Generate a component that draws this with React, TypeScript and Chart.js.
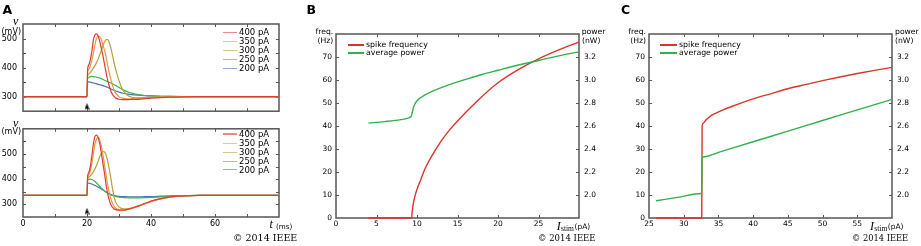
import React, { useEffect, useRef } from 'react';
import { Chart, registerables } from 'chart.js';

Chart.register(...registerables);
Chart.defaults.font.family = "'DejaVu Sans', sans-serif";
Chart.defaults.color = '#000';

// ---------------- Panel A: membrane voltage traces ----------------
const timeMs = [0, 20, 20.2, 20.6, 21, 21.5, 22, 22.5, 23, 23.5, 24, 24.5, 25, 25.5, 26, 26.5, 27, 27.5, 28, 28.5, 29, 30, 31, 32, 33, 34, 36, 38, 40, 43, 46, 50, 55, 60, 80];
const currentLabels = ['400 pA', '350 pA', '300 pA', '250 pA', '200 pA'];
const traceColors = ['#dd3c34', '#ef9642', '#b4a236', '#3cb44c', '#4b70b6'];

const topV400 = [300, 300, 395, 410, 425, 455, 495, 513, 516, 508, 490, 465, 440, 410, 380, 355, 335, 318, 307, 300, 295, 291, 290, 290, 290, 290.5, 291, 293, 295, 297, 298.5, 299.5, 300, 300, 300];
const topV350 = [300, 300, 385, 395, 405, 425, 450, 480, 500, 508, 507, 495, 478, 458, 435, 405, 380, 358, 338, 323, 312, 300, 295, 293, 292.5, 293, 294, 295.5, 297, 298.5, 299.3, 300, 300, 300, 300];
const topV300 = [300, 300, 372, 378, 383, 390, 398, 407, 418, 430, 445, 460, 476, 489, 496, 496, 485, 465, 440, 415, 393, 355, 327, 311, 302, 298, 296, 296.5, 297.5, 298.5, 299.3, 300, 300, 300, 300];
const topV250 = [300, 300, 362, 366, 369, 369.5, 369, 368, 367, 365.5, 364, 361.5, 359, 356.5, 354, 351.5, 349, 346.5, 344, 341, 338, 332, 325, 320, 315, 312, 307, 304, 302.5, 301.5, 300.8, 300.3, 300, 300, 300];
const topV200 = [300, 300, 351, 351, 350, 348.5, 347, 345.5, 344, 342.5, 341, 339.5, 338, 336, 334, 331.5, 329, 326.5, 324, 321.5, 319.5, 316, 312.5, 310, 308.5, 307, 305, 303.5, 302.5, 301.5, 300.8, 300.3, 300, 300, 300];

const botV400 = [336, 336, 412, 428, 448, 490, 540, 570, 575, 565, 540, 502, 460, 420, 375, 340, 315, 298, 288, 282, 279, 277, 277, 278, 281, 285, 293, 303, 313, 323, 330, 334, 336, 336, 336];
const botV350 = [336, 336, 405, 418, 432, 460, 500, 540, 560, 566, 555, 530, 495, 455, 415, 375, 345, 320, 303, 292, 285, 279, 277, 278, 280, 284, 292, 302, 312, 322, 329, 333.5, 335.5, 336, 336];
const botV300 = [336, 336, 403, 408, 413, 420, 430, 442, 455, 472, 490, 503, 510, 508, 495, 470, 438, 400, 360, 328, 308, 290, 283, 282, 283, 286, 294, 303, 312, 322, 329, 333.5, 335.5, 336, 336];
const botV250 = [336, 336, 396, 399, 400, 399, 396, 391, 385, 378, 371, 364, 358, 353, 348, 345, 342, 339, 336, 334, 332, 329, 327.5, 326.5, 326, 326, 326, 326.5, 327.5, 329.5, 331.5, 334, 335.5, 336, 336];
const botV200 = [336, 336, 384, 384, 383, 381, 378, 375, 372, 368, 365, 361, 357, 353, 349, 345, 341, 338, 336, 334.5, 333.5, 332, 331, 330.5, 330, 330, 330, 330.5, 331, 332.5, 334, 335, 336, 336, 336];

const stimTimeMs = [20];
const stimMarkerTop = [266];
const stimMarkerBottom = [273];

// ---------------- Panel B ----------------
const iStimFreqB = [4, 9.35, 9.4, 9.55, 9.75, 10, 10.5, 11, 12, 13, 14, 15, 17.5, 20, 22.5, 25, 27.5, 30];
const spikeFreqB = [0, 0, 2.5, 6.4, 9.5, 12.5, 17, 21.5, 28, 33.5, 38.2, 42.2, 51.1, 58.8, 64.5, 69.2, 73.1, 76.5];
const iStimPowerB = [4, 6, 8, 9, 9.25, 9.3, 9.4, 9.6, 10, 11, 12, 14, 16, 18, 20, 22.5, 25, 27.5, 30];
const avgPowerB = [2.625, 2.638, 2.655, 2.67, 2.682, 2.686, 2.715, 2.77, 2.82, 2.87, 2.905, 2.96, 3.005, 3.048, 3.085, 3.13, 3.17, 3.21, 3.245];

// ---------------- Panel C ----------------
const iStimFreqC = [26, 32.6, 32.65, 32.8, 33.2, 33.8, 34.5, 35.5, 37, 40, 42.5, 45, 47.5, 50, 52.5, 55, 57.5, 60];
const spikeFreqC = [0, 0, 40, 41.2, 42.6, 44.2, 45.4, 46.8, 48.6, 51.8, 54, 56.2, 58, 59.7, 61.3, 62.8, 64.2, 65.5];
const iStimPowerC = [26, 29.3, 32.5, 32.6, 32.65, 33, 35, 40, 45, 50, 55, 60];
const avgPowerC = [1.95, 1.982, 2.013, 2.014, 2.325, 2.333, 2.37, 2.463, 2.555, 2.648, 2.74, 2.832];

const seriesLabels = ['spike frequency', 'average power'];
const RED = '#d8352b';
const GREEN = '#30b24b';

const SANS = "'DejaVu Sans', sans-serif";
const SERIF = "'DejaVu Serif', serif";
const MATH = "'Liberation Serif', serif";

const frameTicksPlugin = {
  id: 'frameTicks',
  beforeDatasetsDraw(chart: any) {
    const { ctx, chartArea: a } = chart;
    const tl = 3;
    ctx.save();
    ctx.strokeStyle = '#555';
    ctx.lineWidth = 1;
    ctx.beginPath();
    const x = chart.scales.x;
    for (const t of x.ticks) {
      const px = Math.round(x.getPixelForValue(t.value)) + 0.5;
      if (px < a.left + 2 || px > a.right - 2) continue;
      ctx.moveTo(px, a.bottom);
      ctx.lineTo(px, a.bottom - tl);
      ctx.moveTo(px, a.top);
      ctx.lineTo(px, a.top + tl);
    }
    const y = chart.scales.y;
    const y2 = chart.scales.y2;
    for (const t of y.ticks) {
      const py = Math.round(y.getPixelForValue(t.value)) + 0.5;
      if (py < a.top + 2 || py > a.bottom - 2) continue;
      ctx.moveTo(a.left, py);
      ctx.lineTo(a.left + tl, py);
      if (!y2) {
        ctx.moveTo(a.right, py);
        ctx.lineTo(a.right - tl, py);
      }
    }
    if (y2) {
      for (const t of y2.ticks) {
        const py = Math.round(y2.getPixelForValue(t.value)) + 0.5;
        if (py < a.top + 2 || py > a.bottom - 2) continue;
        ctx.moveTo(a.right, py);
        ctx.lineTo(a.right - tl, py);
      }
    }
    ctx.stroke();
    ctx.lineWidth = 1.5;
    ctx.strokeRect(a.left, a.top, a.right - a.left, a.bottom - a.top);
    ctx.restore();
  },
};

function arrowImage() {
  const c = document.createElement('canvas');
  c.width = 5;
  c.height = 7;
  const g = c.getContext('2d')!;
  g.fillStyle = '#000';
  g.beginPath();
  g.moveTo(2.5, 0);
  g.lineTo(5, 7);
  g.lineTo(2.5, 5.3);
  g.lineTo(0, 7);
  g.closePath();
  g.fill();
  return c;
}

function xyData(xs: number[], ys: number[]) {
  return xs.map((x, i) => ({ x, y: ys[i] }));
}

const noGrid = { display: false, drawTicks: false };

function traceConfig(series: number[][], markerY: number[], yMin: number, yMax: number, padTop: number, xHeight: number, showXLabels: boolean) {
  const datasets: any[] = series.map((vals, i) => ({
    label: currentLabels[i],
    data: xyData(timeMs, vals),
    borderColor: traceColors[i],
    borderWidth: 1.2,
    pointRadius: 0,
    cubicInterpolationMode: 'monotone',
    fill: false,
  }));
  datasets.push({
    label: 'stimulus onset',
    data: xyData(stimTimeMs, markerY),
    showLine: false,
    pointStyle: arrowImage(),
    pointRadius: 4,
    borderWidth: 0,
    backgroundColor: '#000',
    borderColor: '#000',
    clip: false,
  });
  return {
    type: 'line',
    data: { datasets },
    options: {
      responsive: false,
      animation: false,
      devicePixelRatio: 1,
      events: [],
      layout: { padding: { top: padTop, right: 21, bottom: 0, left: 0 } },
      plugins: { legend: { display: false }, tooltip: { enabled: false } },
      scales: {
        x: {
          type: 'linear',
          min: 0,
          max: 80,
          grid: noGrid,
          border: { display: false },
          ticks: {
            display: showXLabels,
            stepSize: 10,
            autoSkip: false,
            maxRotation: 0,
            padding: 2,
            font: { size: 8 },
            color: '#000',
            callback: (v: number) => (v % 20 === 0 && v < 80 ? String(v) : ''),
          },
          afterFit: (s: any) => {
            s.height = xHeight;
          },
        },
        y: {
          type: 'linear',
          min: yMin,
          max: yMax,
          grid: noGrid,
          border: { display: false },
          ticks: {
            stepSize: 50,
            autoSkip: false,
            padding: 6,
            font: { size: 8 },
            color: '#000',
            callback: (v: number) => (v % 100 === 0 && v >= 300 && v <= 500 ? String(v) : ''),
          },
          afterFit: (s: any) => {
            s.width = 23;
          },
        },
      },
    },
    plugins: [frameTicksPlugin],
  };
}

function ivConfig(fx: number[], fy: number[], px: number[], py: number[], xMin: number, xMax: number, leftW: number, rightW: number) {
  return {
    type: 'line',
    data: {
      datasets: [
        { label: seriesLabels[0], data: xyData(fx, fy), yAxisID: 'y', borderColor: RED, borderWidth: 1.4, pointRadius: 0, cubicInterpolationMode: 'monotone', fill: false, order: 1, clip: 3 },
        { label: seriesLabels[1], data: xyData(px, py), yAxisID: 'y2', borderColor: GREEN, borderWidth: 1.4, pointRadius: 0, cubicInterpolationMode: 'monotone', fill: false, order: 0, clip: 3 },
      ],
    },
    options: {
      responsive: false,
      animation: false,
      devicePixelRatio: 1,
      events: [],
      layout: { padding: { top: 34, right: 0, bottom: 0, left: 0 } },
      plugins: { legend: { display: false }, tooltip: { enabled: false } },
      scales: {
        x: {
          type: 'linear',
          min: xMin,
          max: xMax,
          grid: noGrid,
          border: { display: false },
          ticks: {
            stepSize: 5,
            autoSkip: false,
            maxRotation: 0,
            padding: 2,
            font: { size: 7.5 },
            color: '#000',
            callback: (v: number) => (v >= xMax ? '' : String(v)),
          },
          afterFit: (s: any) => {
            s.height = 28;
          },
        },
        y: {
          type: 'linear',
          position: 'left',
          min: 0,
          max: 80,
          grid: noGrid,
          border: { display: false },
          ticks: {
            stepSize: 10,
            autoSkip: false,
            padding: 4,
            font: { size: 7.5 },
            color: '#000',
            callback: (v: number) => (v >= 80 ? '' : String(v)),
          },
          afterFit: (s: any) => {
            s.width = leftW;
          },
        },
        y2: {
          type: 'linear',
          position: 'right',
          min: 1.8,
          max: 3.4,
          grid: noGrid,
          border: { display: false },
          ticks: {
            stepSize: 0.2,
            autoSkip: false,
            padding: 5,
            font: { size: 7.5 },
            color: '#000',
            callback: (v: number) => (v < 1.9 || v > 3.3 ? '' : v.toFixed(1)),
          },
          afterFit: (s: any) => {
            s.width = rightW;
          },
        },
      },
    },
    plugins: [frameTicksPlugin],
  };
}

function ChartCanvas({ left, top, width, height, build }: { left: number; top: number; width: number; height: number; build: () => any }) {
  const ref = useRef<HTMLCanvasElement>(null);
  useEffect(() => {
    const chart = new Chart(ref.current as HTMLCanvasElement, build());
    return () => chart.destroy();
  }, []);
  return <canvas ref={ref} width={width} height={height} style={{ position: 'absolute', left, top, width, height }} />;
}

function Txt({ x, top, size, family = SANS, weight, italic, right, children }: any) {
  const style: any = {
    position: 'absolute',
    top,
    fontSize: size,
    fontFamily: family,
    lineHeight: `${size}px`,
    whiteSpace: 'nowrap',
    fontWeight: weight || 'normal',
    fontStyle: italic ? 'italic' : 'normal',
    color: '#000',
  };
  if (right !== undefined) style.right = 921 - right;
  else style.left = x;
  return <div style={style}>{children}</div>;
}

function LegendRow({ x1, x2, cy, color, text, size, thick, opacity = 1 }: any) {
  return (
    <>
      <div style={{ position: 'absolute', left: x1, top: cy - thick / 2, width: x2 - x1, height: thick, background: color, opacity }} />
      <Txt x={x2 + 2} top={cy - size * 0.48} size={size}>{text}</Txt>
    </>
  );
}

function IStimLabel({ x }: { x: number }) {
  return (
    <>
      <Txt x={x} top={219.8} size={12} family={MATH} italic>I</Txt>
      <Txt x={x + 4.3} top={224.7} size={7.5} family={MATH}>stim</Txt>
      <Txt x={x + 17.8} top={223.4} size={7.5}>(pA)</Txt>
    </>
  );
}

export default function App() {
  const legendTopRows = [32.3, 41.2, 50.3, 59.5, 68.5];
  const legendBotRows = [134, 143.2, 152.2, 161.2, 169.8];
  return (
    <div style={{ position: 'absolute', left: 0, top: 0, width: 921, height: 246, background: '#fff', overflow: 'hidden' }}>
      <ChartCanvas left={0} top={0} width={300} height={122} build={() => traceConfig([topV400, topV350, topV300, topV250, topV200], stimMarkerTop, 250, 550, 24, 6, false)} />
      <ChartCanvas left={0} top={118} width={300} height={128} build={() => traceConfig([botV400, botV350, botV300, botV250, botV200], stimMarkerBottom, 250, 600, 8, 29, true)} />
      <ChartCanvas left={300} top={0} width={310} height={246} build={() => ivConfig(iStimFreqB, spikeFreqB, iStimPowerB, avgPowerB, 0, 30, 36, 31)} />
      <ChartCanvas left={610} top={0} width={311} height={246} build={() => ivConfig(iStimFreqC, spikeFreqC, iStimPowerC, avgPowerC, 25, 60, 39, 29)} />

      {/* Panel letters */}
      <Txt x={2.5} top={3.5} size={12.5} weight="bold">A</Txt>
      <Txt x={306.5} top={3.5} size={12.5} weight="bold">B</Txt>
      <Txt x={621} top={3.5} size={12.5} weight="bold">C</Txt>

      {/* Panel A axis labels */}
      <Txt x={13} top={14.5} size={12} family={MATH} italic>v</Txt>
      <Txt x={1.5} top={28.2} size={8}>(mV)</Txt>
      <Txt x={13} top={116.5} size={12} family={MATH} italic>v</Txt>
      <Txt x={1.5} top={127.7} size={8}>(mV)</Txt>
      <Txt x={269.5} top={218} size={12} family={MATH} italic>t</Txt>
      <Txt x={276} top={222.5} size={7.2}>(ms)</Txt>
      <Txt x={233} top={233.1} size={9.5} family={SERIF}>© 2014 IEEE</Txt>

      {legendTopRows.map((cy, i) => (
        <LegendRow key={'lt' + i} x1={223} x2={237} cy={cy} color={traceColors[i]} text={currentLabels[i]} size={8.5} thick={1.4} opacity={0.6} />
      ))}
      {legendBotRows.map((cy, i) => (
        <LegendRow key={'lb' + i} x1={223} x2={237} cy={cy} color={traceColors[i]} text={currentLabels[i]} size={8.5} thick={1.4} opacity={0.6} />
      ))}

      {/* Panel B labels */}
      <Txt right={333.3} top={28.3} size={7.7}>freq.</Txt>
      <Txt right={333.3} top={36.8} size={7.7}>(Hz)</Txt>
      <Txt x={581.7} top={28.3} size={7.7}>power</Txt>
      <Txt x={582} top={36.8} size={7.7}>(nW)</Txt>
      <LegendRow x1={348} x2={364} cy={44.8} color={RED} text={seriesLabels[0]} size={7.8} thick={2} />
      <LegendRow x1={348} x2={364} cy={53.2} color={GREEN} text={seriesLabels[1]} size={7.8} thick={2} />
      <IStimLabel x={556.7} />
      <Txt x={538} top={233.9} size={8.5} family={SERIF}>© 2014 IEEE</Txt>

      {/* Panel C labels */}
      <Txt right={646} top={28.3} size={7.7}>freq.</Txt>
      <Txt right={646} top={36.8} size={7.7}>(Hz)</Txt>
      <Txt x={895} top={28.3} size={7.7}>power</Txt>
      <Txt x={895} top={36.8} size={7.7}>(nW)</Txt>
      <LegendRow x1={660} x2={677} cy={44.8} color={RED} text={seriesLabels[0]} size={7.8} thick={2} />
      <LegendRow x1={660} x2={677} cy={53.2} color={GREEN} text={seriesLabels[1]} size={7.8} thick={2} />
      <IStimLabel x={870} />
      <Txt x={852} top={234} size={8.3} family={SERIF}>© 2014 IEEE</Txt>
    </div>
  );
}
